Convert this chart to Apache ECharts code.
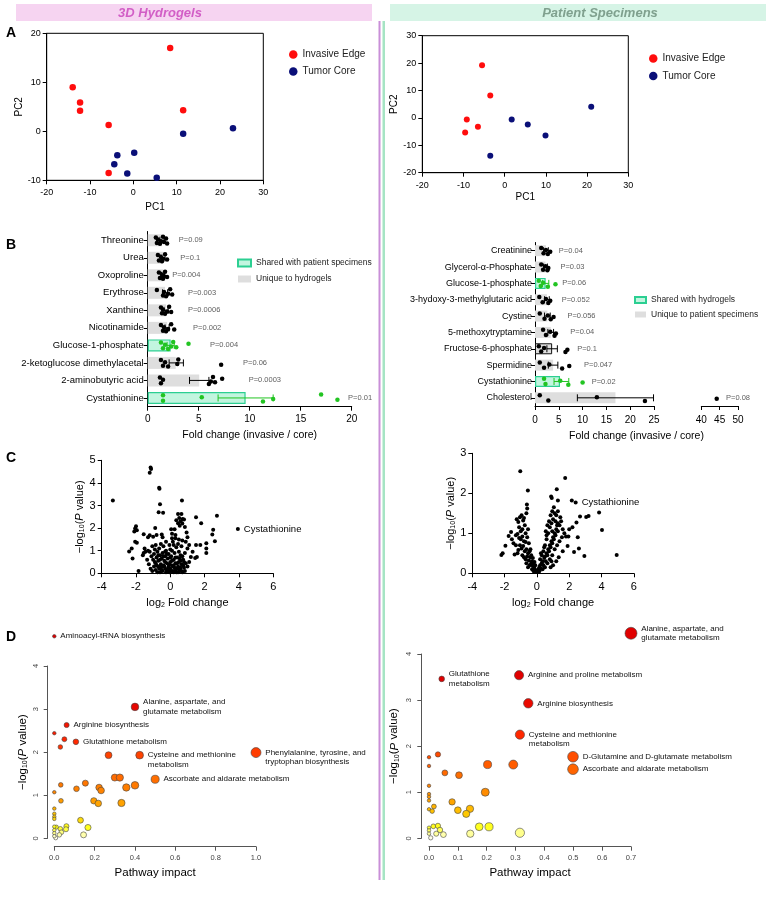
<!DOCTYPE html>
<html>
<head>
<meta charset="utf-8">
<script src="https://cdn.jsdelivr.net/npm/echarts@6/dist/echarts.min.js"></script>
<style>
  html, body { margin: 0; padding: 0; background: #fff; }
  #chart { width: 768px; height: 903px; }
</style>
</head>
<body>
<div id="chart"></div>
<script>
// ---------- A: PCA ----------
const pcaGelEdge = [[8.5, 17], [-14, 9], [-12.3, 5.9], [-12.3, 4.2], [-5.7, 1.3], [11.5, 4.3], [-5.7, -8.5]];
const pcaGelCore = [[11.5, -0.5], [23, 0.6], [0.2, -4.4], [-3.7, -4.9], [-4.4, -6.7], [-1.4, -8.6], [5.4, -9.5]];
const pcaPatEdge = [[-5.5, 19.2], [-3.5, 8.2], [-9.2, -0.6], [-6.5, -3.2], [-9.6, -5.3]];
const pcaPatCore = [[1.7, -0.6], [5.6, -2.4], [9.9, -6.4], [21, 4.1], [-3.5, -13.8]];

// ---------- B: fold change, hydrogels ----------
const gelMetabolites = ['Threonine', 'Urea', 'Oxoproline', 'Erythrose', 'Xanthine', 'Nicotinamide',
  'Glucose-1-phosphate', '2-ketoglucose dimethylacetal', '2-aminobutyric acid', 'Cystathionine'];
const gelShared = [false, false, false, false, false, false, true, false, false, true];
const gelMean = [1.4, 1.5, 1.5, 1.7, 1.8, 1.9, 2.25, 2.75, 5.05, 9.6];
const gelErrLow = [1.2, 1.3, 1.35, 1.45, 1.6, 1.7, 1.9, 2.1, 4.1, 6.9];
const gelErrHigh = [1.6, 1.7, 1.65, 1.95, 2.0, 2.1, 2.6, 3.5, 6.0, 12.3];
const gelPoints = [
  [0.8, 0.9, 1.0, 1.2, 1.3, 1.5, 1.6, 1.8, 1.9],
  [1.0, 1.1, 1.3, 1.4, 1.5, 1.7, 1.9],
  [1.1, 1.2, 1.4, 1.5, 1.6, 1.7, 1.9],
  [0.9, 1.5, 1.6, 1.8, 2.0, 2.2, 2.4],
  [1.3, 1.4, 1.5, 1.7, 1.9, 2.1, 2.3],
  [1.3, 1.5, 1.6, 1.8, 2.0, 2.3, 2.6],
  [1.3, 1.5, 1.7, 2.0, 2.3, 2.5, 2.8, 4.0],
  [1.3, 1.5, 1.7, 2.0, 2.9, 3.0, 7.2],
  [1.2, 1.3, 1.5, 6.0, 6.2, 6.4, 6.6, 7.3],
  [1.5, 1.5, 5.3, 11.3, 12.3, 17.0, 18.6]
];
const gelPLabels = ['P=0.09', 'P=0.1', 'P=0.004', 'P=0.003', 'P=0.0006', 'P=0.002', 'P=0.004', 'P=0.06', 'P=0.0003', 'P=0.01'];
const gelPLabelX = [3.0, 3.15, 2.35, 3.9, 3.9, 4.4, 6.05, 9.3, 9.85, 19.6];

// ---------- B: fold change, patient specimens ----------
const patMetabolites = ['Creatinine', 'Glycerol-α-Phosphate', 'Glucose-1-phosphate', '3-hydoxy-3-methylglutaric acid',
  'Cystine', '5-methoxytryptamine', 'Fructose-6-phosphate', 'Spermidine', 'Cystathionine', 'Cholesterol'];
const patShared = [false, false, true, false, false, false, false, false, true, false];
const patMean = [2.3, 2.2, 2.24, 2.5, 2.6, 3.3, 3.6, 3.8, 5.25, 16.9];
const patErrLow = [1.8, 1.8, 1.6, 2.0, 2.0, 2.7, 2.5, 2.8, 4.0, 8.9];
const patErrHigh = [2.8, 2.6, 2.9, 3.0, 3.2, 3.9, 4.7, 4.8, 7.1, 24.9];
const patPoints = [
  [1.3, 1.8, 2.3, 2.7, 3.2],
  [1.3, 1.7, 2.2, 2.6, 2.8],
  [0.8, 1.2, 1.7, 2.7, 4.3],
  [0.9, 1.6, 2.3, 2.8, 3.2],
  [1.0, 2.0, 2.7, 3.3, 3.9],
  [1.7, 2.3, 3.2, 4.1, 4.4],
  [0.8, 1.3, 1.9, 6.4, 6.8],
  [1.0, 1.9, 3.0, 5.7, 7.2],
  [1.9, 2.2, 5.3, 7.0, 10.0],
  [1.0, 2.8, 13.0, 23.1, 44.2]
];
const patPLabels = ['P=0.04', 'P=0.03', 'P=0.06', 'P=0.052', 'P=0.056', 'P=0.04', 'P=0.1', 'P=0.047', 'P=0.02', 'P=0.08'];
const patPLabelX = [4.9, 5.25, 5.6, 5.5, 6.7, 7.3, 8.75, 10.2, 11.8, 46.6];
const patBreakAt = 25;

// ---------- C: volcano plots [log2 FC, -log10 P] ----------
const volcanoGel = [
  [-3.35, 3.22], [-1.15, 4.68], [-1.12, 4.62], [-1.2, 4.45], [-0.65, 3.78], [-0.63, 3.74], [-0.6, 3.06], [-0.68, 2.7], [-0.42, 2.68], [0.68, 3.22],
  [0.45, 2.62], [0.65, 2.62], [0.52, 2.45], [0.72, 2.4], [0.35, 2.35], [0.6, 2.3], [0.8, 2.38], [0.45, 2.22], [0.7, 2.2], [0.55, 2.1],
  [1.5, 2.48], [1.8, 2.22], [2.72, 2.55],
  [-2.0, 2.08], [-2.05, 1.98], [-2.1, 1.85], [-1.95, 1.9], [-1.55, 1.73], [-0.88, 2.0], [-1.3, 1.6], [-1.2, 1.68], [-1.0, 1.62], [-0.8, 1.7], [-0.5, 1.72], [-0.45, 1.6],
  [0.05, 1.95], [0.25, 1.95], [0.1, 1.75], [0.3, 1.7], [0.85, 2.05], [0.95, 1.8], [1.0, 1.6], [0.9, 1.4], [1.1, 1.25], [0.7, 1.45], [0.5, 1.5], [0.3, 1.55], [0.15, 1.4],
  [2.5, 1.93], [2.45, 1.72], [2.6, 1.42], [2.1, 1.33], [2.1, 1.1], [2.1, 0.9], [1.75, 1.25], [1.5, 1.25], [1.55, 0.72], [1.45, 0.68], [1.2, 0.72], [1.3, 0.95], [1.0, 1.1],
  [-2.4, 0.97], [-2.2, 0.66], [-2.25, 1.1], [-1.85, 0.1], [-2.05, 1.4], [-1.95, 1.35], [-1.5, 1.1], [-1.55, 0.9], [-1.45, 0.95], [-1.6, 0.8],
  [-1.2, 0.95], [-1.1, 0.75], [-1.0, 0.6], [-0.95, 0.85], [-0.9, 1.05], [-0.85, 0.45], [-0.8, 0.7], [-0.75, 0.95], [-0.7, 0.3], [-0.7, 0.55],
  [-0.65, 1.1], [-0.6, 0.8], [-0.55, 0.4], [-0.5, 0.65], [-0.5, 0.15], [-0.45, 0.9], [-0.4, 0.35], [-0.4, 1.2], [-0.35, 0.55], [-0.3, 0.2],
  [-0.3, 0.75], [-0.25, 1.0], [-0.2, 0.45], [-0.2, 0.1], [-0.15, 0.65], [-0.1, 0.3], [-0.1, 0.85], [-0.05, 0.05], [0, 0.5], [0, 0.2],
  [0.05, 0.75], [0.1, 0.35], [0.1, 1.0], [0.15, 0.1], [0.2, 0.6], [0.25, 0.25], [0.25, 0.9], [0.3, 0.45], [0.35, 0.05], [0.35, 1.15],
  [0.4, 0.7], [0.45, 0.3], [0.5, 0.5], [0.5, 0.95], [0.55, 0.15], [0.6, 0.8], [0.65, 0.4], [0.7, 0.05], [0.75, 0.6], [0.8, 0.25],
  [0.85, 0.9], [0.9, 0.45], [-1.25, 0.4], [-1.15, 0.2], [-1.05, 0.1], [-0.95, 0.3], [-0.85, 0.15], [-0.75, 0.05], [-0.65, 0.2], [-0.6, 0.05],
  [-0.55, 0.25], [-0.45, 0.1], [-0.35, 0.3], [-0.25, 0.05], [-0.15, 0.2], [-0.05, 0.4], [0.05, 0.1], [0.15, 0.3], [0.2, 0.05], [0.3, 0.15],
  [0.4, 0.2], [0.45, 0.05], [0.6, 0.25], [0.65, 0.1], [0.75, 0.35], [0.85, 0.1], [-0.9, 0.5], [-0.8, 0.35], [-0.7, 0.8], [-0.6, 0.6],
  [-0.5, 0.3], [-0.4, 0.75], [-0.3, 0.5], [-0.2, 0.85], [-0.1, 0.15], [0, 0.7], [0.1, 0.55], [0.2, 0.35], [0.3, 0.7], [0.4, 0.45],
  [0.5, 0.25], [0.6, 0.55], [0.7, 0.75], [0.8, 0.5], [1.0, 0.3], [1.1, 0.5], [-1.3, 1.0], [-1.35, 0.6], [-1.05, 1.2], [-0.55, 1.3],
  [0.2, 1.25], [0.45, 1.3], [0.65, 1.2], [0.0, 1.05], [-0.25, 1.4], [0.1, 1.55], [-0.05, 1.25], [-0.85, 1.25], [-0.3, 0.95], [0.55, 0.65]
];
const volcanoGelHit = {name: 'Cystathionine', value: [3.94, 1.96]};

const volcanoPat = [
  [-1.03, 2.55], [-0.56, 2.07], [1.75, 2.38], [1.23, 2.1], [0.88, 1.92], [0.92, 1.88], [1.3, 1.82], [2.16, 1.82], [3.85, 1.52], [3.2, 1.43],
  [3.05, 1.41], [2.67, 1.42], [2.45, 1.27], [2.2, 1.15], [2.0, 1.1], [4.03, 1.08], [4.94, 0.46], [2.94, 0.43], [2.3, 0.53], [2.53, 0.9],
  [1.8, 0.92], [1.95, 0.92], [1.55, 0.9], [2.6, 0.62], [1.9, 0.68], [1.6, 0.55],
  [-2.2, 0.46], [-2.12, 0.5], [-1.95, 0.69], [-1.6, 1.03], [-1.75, 0.93], [-1.38, 0.47], [-1.55, 0.85], [-1.45, 0.75], [-1.3, 0.95],
  [-1.25, 1.35], [-1.15, 1.28], [-1.05, 1.4], [-0.95, 1.45], [-0.85, 1.32], [-0.8, 1.38], [-0.75, 1.2], [-0.62, 1.72], [-0.6, 1.62], [-0.65, 1.5],
  [-0.55, 1.1], [-1.1, 1.15], [-1.0, 1.05], [-0.9, 1.1], [-0.7, 1.0], [-1.2, 0.98], [-1.1, 0.88], [-1.0, 0.85], [-0.9, 0.92], [-0.8, 0.8],
  [-0.7, 0.78], [-0.6, 0.9], [-0.5, 0.75], [-1.05, 0.7], [-0.95, 0.62], [-0.85, 0.68], [-0.75, 0.55], [-0.65, 0.6], [-0.55, 0.5], [-0.45, 0.55],
  [-0.9, 0.45], [-0.8, 0.4], [-0.7, 0.35], [-0.6, 0.42], [-0.5, 0.32], [-0.4, 0.4], [-0.35, 0.25], [-0.3, 0.3], [-0.25, 0.18], [-0.2, 0.22],
  [-0.15, 0.12], [-0.1, 0.08], [-0.05, 0.03], [-0.45, 0.2], [-0.55, 0.15], [-0.3, 0.1], [-0.2, 0.05], [-0.4, 0.6], [-0.35, 0.45], [-0.65, 0.25],
  [-1.15, 0.58], [-1.3, 0.7], [-1.2, 0.5], [-0.25, 0.38], [-0.15, 0.28], [-0.1, 0.2],
  [0.05, 0.05], [0.1, 0.1], [0.15, 0.15], [0.2, 0.2], [0.25, 0.12], [0.3, 0.25], [0.35, 0.3], [0.4, 0.2], [0.45, 0.38], [0.5, 0.42],
  [0.55, 0.3], [0.6, 0.5], [0.65, 0.45], [0.7, 0.6], [0.75, 0.55], [0.8, 0.7], [0.85, 0.65], [0.9, 0.8], [0.95, 0.75], [1.0, 0.9],
  [1.05, 0.85], [1.1, 1.0], [1.15, 0.95], [1.2, 1.1], [1.25, 1.2], [1.3, 1.05], [0.6, 0.85], [0.7, 1.0], [0.8, 1.15], [0.9, 1.25],
  [1.0, 1.35], [1.1, 1.5], [1.2, 1.45], [1.3, 1.55], [0.75, 1.3], [0.85, 1.45], [0.95, 1.55], [1.05, 1.65], [0.65, 1.2], [0.55, 1.05],
  [0.5, 0.7], [0.4, 0.55], [0.3, 0.45], [0.2, 0.35], [0.15, 0.05], [0.35, 0.1], [0.5, 0.15], [0.65, 0.25], [0.8, 0.35], [0.95, 0.45],
  [1.1, 0.6], [1.25, 0.7], [1.4, 0.8], [1.4, 1.2], [1.5, 1.3], [1.35, 0.4], [1.2, 0.3], [0.9, 0.3], [1.6, 1.1], [1.7, 1.0],
  [1.45, 1.4], [1.0, 0.2], [0.85, 0.15], [0.25, 0.5], [0.45, 0.65], [0.6, 0.95], [1.15, 1.3], [1.3, 1.25], [0.95, 1.05]
];
const volcanoPatHit = {name: 'Cystathionine', value: [2.4, 1.77]};

// ---------- D: pathway impact [impact, -log10 P] ----------
const pathwayGel = [
  [0.0, 4.69], [0.40, 3.05], [0.061, 2.63], [0.107, 2.24], [0.423, 1.93], [1.0, 1.99], [0.5, 1.37],
  [0.0, 2.44], [0.05, 2.30], [0.03, 2.12], [0.269, 1.93], [0.30, 1.41], [0.325, 1.41], [0.40, 1.23], [0.357, 1.18],
  [0.222, 1.18], [0.232, 1.11], [0.154, 1.28], [0.11, 1.15], [0.032, 1.24], [0.0, 1.07], [0.033, 0.87], [0.196, 0.87],
  [0.218, 0.81], [0.333, 0.82], [0.0, 0.69], [0.0, 0.57], [0.0, 0.50], [0.0, 0.45], [0.13, 0.42], [0.167, 0.25],
  [0.145, 0.08], [0.06, 0.28], [0.058, 0.21], [0.01, 0.26], [0.03, 0.22], [0.0, 0.27], [0.0, 0.19], [0.0, 0.12],
  [0.035, 0.14], [0.025, 0.08], [0.007, 0.01], [0.0, 0.05]
];
const pathwayGelLabels = ['Aminoacyl-tRNA biosynthesis', 'Alanine, aspartate, and\nglutamate metabolism', 'Arginine biosynthesis',
  'Glutathione metabolism', 'Cysteine and methionine\nmetabolism', 'Phenylalanine, tyrosine, and\ntryptophan biosynthesis',
  'Ascorbate and aldarate metabolism'];

const pathwayPat = [
  [0.7, 4.45], [0.044, 3.46], [0.312, 3.54], [0.344, 2.93], [0.315, 2.25], [0.499, 1.77], [0.499, 1.50],
  [0.203, 1.60], [0.292, 1.60], [0.031, 1.82], [0.0, 1.76], [0.0, 1.57], [0.055, 1.42], [0.104, 1.37], [0.0, 1.14],
  [0.0, 0.96], [0.0, 0.90], [0.0, 0.82], [0.195, 1.0], [0.08, 0.79], [0.017, 0.69], [0.0, 0.63], [0.011, 0.59],
  [0.1, 0.61], [0.142, 0.64], [0.129, 0.53], [0.174, 0.25], [0.208, 0.25], [0.315, 0.12], [0.143, 0.10], [0.0, 0.23],
  [0.0, 0.17], [0.0, 0.10], [0.015, 0.26], [0.031, 0.27], [0.038, 0.18], [0.025, 0.10], [0.05, 0.08], [0.006, 0.01]
];
const pathwayPatLabels = ['Alanine, aspartate, and\nglutamate metabolism', 'Glutathione\nmetabolism', 'Arginine and proline metabolism',
  'Arginine biosynthesis', 'Cysteine and methionine\nmetabolism', 'D-Glutamine and D-glutamate metabolism',
  'Ascorbate and aldarate metabolism'];

// ---------- styles ----------
const FONT = '"Liberation Sans", Arial, sans-serif';
const RED = '#ff0d0d';
const NAVY = '#0a0f78';
const GREEN = '#22c422';
const MINT = '#c2f5df';
const MINT_EDGE = '#2ccf92';
const GREY = '#dedede';
const dotJitter = [-0.16, 0.16, -0.04, 0.2, 0.06, -0.2, 0.1, -0.1, 0.18];
const firstLineAligned = ['Cysteine and methionine\nmetabolism', 'Phenylalanine, tyrosine, and\ntryptophan biosynthesis'];

const chart = echarts.init(document.getElementById('chart'));

function axis(gridIndex, o) {
  const color = o.color || '#000';
  return Object.assign({
    gridIndex, type: 'value',
    axisLine: {show: true, onZero: false, lineStyle: {color, width: 1}},
    axisTick: {show: true, length: 4, lineStyle: {color, width: 1}},
    axisLabel: {fontSize: o.fs || 9, color, margin: o.margin || 7, fontFamily: FONT},
    splitLine: {show: false},
    nameLocation: 'middle',
    nameTextStyle: {fontSize: o.nameFs || 10, color: '#000', fontFamily: FONT}
  }, o.extra || {});
}
function hiddenRowAxis(gridIndex) {
  return {gridIndex, type: 'value', min: -0.5, max: 9.5, inverse: true, show: false};
}

const logPRich = fs => ({
  n: {fontSize: fs, color: '#000', fontFamily: FONT},
  s: {fontSize: Math.round(fs * 0.62), color: '#000', fontFamily: FONT, lineHeight: 4, verticalAlign: 'bottom'},
  i: {fontSize: fs, color: '#000', fontFamily: FONT, fontStyle: 'italic'}
});
const logPName = '{n|\u2212log}{s|10}{n|(}{i|P}{n| value)}';

function dotSeries(points, shared, wantShared, xi, yi, keep) {
  const data = [];
  points.forEach((vals, i) => {
    if (shared[i] !== wantShared) return;
    vals.forEach((v, j) => { if (keep(v)) data.push([v, i + dotJitter[j % dotJitter.length]]); });
  });
  return {type: 'scatter', xAxisIndex: xi, yAxisIndex: yi, data, symbolSize: 4.5, silent: true, z: 5,
    itemStyle: {color: wantShared ? GREEN : '#000', opacity: 1}};
}

function errorSeries(low, high, shared, xi, yi) {
  return {
    type: 'custom', xAxisIndex: xi, yAxisIndex: yi, silent: true, z: 4,
    encode: {x: [0, 1], y: 2},
    data: low.map((lo, i) => [lo, high[i], i]),
    renderItem: (params, api) => {
      const a = api.coord([api.value(0), api.value(2)]);
      const b = api.coord([api.value(1), api.value(2)]);
      const c = shared[params.dataIndex] ? GREEN : '#000';
      const st = {stroke: c, lineWidth: 1};
      return {type: 'group', children: [
        {type: 'line', shape: {x1: a[0], y1: a[1], x2: b[0], y2: b[1]}, style: st},
        {type: 'line', shape: {x1: a[0], y1: a[1] - 3.5, x2: a[0], y2: a[1] + 3.5}, style: st},
        {type: 'line', shape: {x1: b[0], y1: b[1] - 3.5, x2: b[0], y2: b[1] + 3.5}, style: st}
      ]};
    }
  };
}

function pLabelSeries(labels, xs, xi, yi, keep) {
  const data = [];
  labels.forEach((t, i) => { if (keep(xs[i])) data.push({name: t, value: [xs[i], i]}); });
  return {type: 'scatter', xAxisIndex: xi, yAxisIndex: yi, data, symbolSize: 1, silent: true,
    itemStyle: {color: 'rgba(0,0,0,0)'},
    label: {show: true, position: 'right', distance: 0, formatter: '{b}', fontSize: 7.5, color: '#333', fontFamily: FONT}};
}

function pathwaySeries(points, labels, xi, yi, maxImpact, maxSize) {
  return {
    type: 'scatter', xAxisIndex: xi, yAxisIndex: yi, clip: false, silent: true,
    data: points.map((p, i) => {
      const name = labels[i] || '';
      const item = {name, value: p};
      if (firstLineAligned.indexOf(name) >= 0) item.label = {offset: [0, 4.5]};
      return item;
    }),
    symbolSize: v => 3.5 + (maxSize - 3.5) * Math.sqrt(v[0] / maxImpact),
    itemStyle: {borderColor: '#444', borderWidth: 0.6, opacity: 1},
    label: {show: true, position: 'right', distance: 4, formatter: '{b}', fontSize: 8, lineHeight: 9.5,
      color: '#111', fontFamily: FONT}
  };
}

const plainDot = color => ({color, opacity: 1});

const series = [
  // A
  {type: 'scatter', name: 'Invasive Edge', xAxisIndex: 0, yAxisIndex: 0, data: pcaGelEdge, symbolSize: 6.5, itemStyle: plainDot(RED)},
  {type: 'scatter', name: 'Tumor Core', xAxisIndex: 0, yAxisIndex: 0, data: pcaGelCore, symbolSize: 6.5, itemStyle: plainDot(NAVY)},
  {type: 'scatter', name: 'Invasive Edge', xAxisIndex: 1, yAxisIndex: 1, data: pcaPatEdge, symbolSize: 6, itemStyle: plainDot(RED)},
  {type: 'scatter', name: 'Tumor Core', xAxisIndex: 1, yAxisIndex: 1, data: pcaPatCore, symbolSize: 6, itemStyle: plainDot(NAVY)},
  // B hydrogels
  {type: 'bar', name: 'Shared with patient specimens', xAxisIndex: 2, yAxisIndex: 2, barWidth: 12, barGap: '-100%',
    data: gelMean.map((v, i) => gelShared[i] ? v : '-'), itemStyle: {color: MINT, borderColor: MINT_EDGE, borderWidth: 1.2}, z: 2},
  {type: 'bar', name: 'Unique to hydrogels', xAxisIndex: 2, yAxisIndex: 2, barWidth: 12, barGap: '-100%',
    data: gelMean.map((v, i) => gelShared[i] ? '-' : v), itemStyle: {color: GREY}, z: 2},
  errorSeries(gelErrLow, gelErrHigh, gelShared, 2, 3),
  dotSeries(gelPoints, gelShared, false, 2, 3, () => true),
  dotSeries(gelPoints, gelShared, true, 2, 3, () => true),
  pLabelSeries(gelPLabels, gelPLabelX, 2, 3, () => true),
  // B patients
  {type: 'bar', name: 'Shared with hydrogels', xAxisIndex: 3, yAxisIndex: 4, barWidth: 11, barGap: '-100%',
    data: patMean.map((v, i) => patShared[i] ? v : '-'), itemStyle: {color: MINT, borderColor: MINT_EDGE, borderWidth: 1.2}, z: 2},
  {type: 'bar', name: 'Unique to patient specimens', xAxisIndex: 3, yAxisIndex: 4, barWidth: 11, barGap: '-100%',
    data: patMean.map((v, i) => {
      if (patShared[i]) return '-';
      return patMetabolites[i] === 'Fructose-6-phosphate'
        ? {value: v, itemStyle: {borderColor: '#111', borderWidth: 1}} : v;
    }), itemStyle: {color: GREY}, z: 2},
  errorSeries(patErrLow, patErrHigh, patShared, 3, 5),
  dotSeries(patPoints, patShared, false, 3, 5, v => v <= patBreakAt),
  dotSeries(patPoints, patShared, true, 3, 5, v => v <= patBreakAt),
  dotSeries(patPoints, patShared, false, 4, 6, v => v > patBreakAt),
  pLabelSeries(patPLabels, patPLabelX, 3, 5, x => x <= patBreakAt),
  pLabelSeries(patPLabels, patPLabelX, 4, 6, x => x > patBreakAt),
  // C
  {type: 'scatter', xAxisIndex: 5, yAxisIndex: 7, data: volcanoGel, symbolSize: 4, silent: true, itemStyle: plainDot('#000')},
  {type: 'scatter', xAxisIndex: 5, yAxisIndex: 7, data: [volcanoGelHit], symbolSize: 4, silent: true, itemStyle: plainDot('#000'),
    label: {show: true, position: 'right', distance: 4, formatter: '{b}', fontSize: 9.5, color: '#000', fontFamily: FONT}},
  {type: 'scatter', xAxisIndex: 6, yAxisIndex: 8, data: volcanoPat, symbolSize: 4, silent: true, itemStyle: plainDot('#000')},
  {type: 'scatter', xAxisIndex: 6, yAxisIndex: 8, data: [volcanoPatHit], symbolSize: 4, silent: true, itemStyle: plainDot('#000'),
    label: {show: true, position: 'right', distance: 4, formatter: '{b}', fontSize: 9.5, color: '#000', fontFamily: FONT}},
  // D
  pathwaySeries(pathwayGel, pathwayGelLabels, 7, 9, 1.0, 10),
  pathwaySeries(pathwayPat, pathwayPatLabels, 8, 10, 0.7, 12)
];
const dSeries = [series.length - 2, series.length - 1];

const option = {
  animation: false,
  backgroundColor: '#fff',
  textStyle: {fontFamily: FONT},
  graphic: [
    {type: 'rect', shape: {x: 16, y: 4, width: 356, height: 17}, style: {fill: '#f6d4f1'}},
    {type: 'text', style: {x: 160, y: 13, text: '3D Hydrogels', align: 'center', verticalAlign: 'middle',
      font: 'italic bold 13px "Liberation Sans", Arial, sans-serif', fill: '#d25ec6'}},
    {type: 'rect', shape: {x: 390, y: 4, width: 376, height: 17}, style: {fill: '#d6f4e6'}},
    {type: 'text', style: {x: 600, y: 13, text: 'Patient Specimens', align: 'center', verticalAlign: 'middle',
      font: 'italic bold 13px "Liberation Sans", Arial, sans-serif', fill: '#7fa08e'}},
    {type: 'rect', shape: {x: 378.5, y: 21, width: 2, height: 859}, style: {fill: '#c98fd8'}},
    {type: 'rect', shape: {x: 382.5, y: 21, width: 2.5, height: 859}, style: {fill: '#a6e4c4'}},
    {type: 'text', style: {x: 6, y: 33, text: 'A', verticalAlign: 'middle', font: 'bold 14px "Liberation Sans", Arial, sans-serif', fill: '#000'}},
    {type: 'text', style: {x: 6, y: 245, text: 'B', verticalAlign: 'middle', font: 'bold 14px "Liberation Sans", Arial, sans-serif', fill: '#000'}},
    {type: 'text', style: {x: 6, y: 458, text: 'C', verticalAlign: 'middle', font: 'bold 14px "Liberation Sans", Arial, sans-serif', fill: '#000'}},
    {type: 'text', style: {x: 6, y: 637, text: 'D', verticalAlign: 'middle', font: 'bold 14px "Liberation Sans", Arial, sans-serif', fill: '#000'}},
    {type: 'text', style: {x: 636.5, y: 436, text: 'Fold change (invasive / core)', align: 'center', verticalAlign: 'middle',
      font: '10.5px "Liberation Sans", Arial, sans-serif', fill: '#000'}}
  ],
  legend: [
    {left: 284, top: 44.5, orient: 'vertical', itemGap: 7, itemWidth: 8.5, itemHeight: 8.5, icon: 'circle',
      data: ['Invasive Edge', 'Tumor Core'], textStyle: {fontSize: 10, color: '#222', fontFamily: FONT}, selectedMode: false},
    {left: 644, top: 48.5, orient: 'vertical', itemGap: 7.5, itemWidth: 8.5, itemHeight: 8.5, icon: 'circle',
      data: ['Invasive Edge', 'Tumor Core'], textStyle: {fontSize: 10, color: '#222', fontFamily: FONT}, selectedMode: false},
    {left: 232, top: 253.5, orient: 'vertical', itemGap: 7, itemWidth: 13, itemHeight: 7, icon: 'rect',
      data: ['Shared with patient specimens', 'Unique to hydrogels'], textStyle: {fontSize: 8.5, color: '#222', fontFamily: FONT}, selectedMode: false},
    {left: 629, top: 290.5, orient: 'vertical', itemGap: 5.5, itemWidth: 11, itemHeight: 6, icon: 'rect',
      data: ['Shared with hydrogels', 'Unique to patient specimens'], textStyle: {fontSize: 8.5, color: '#222', fontFamily: FONT}, selectedMode: false}
  ],
  grid: [
    {left: 46.7, top: 33.3, width: 216.6, height: 147, show: true, borderColor: '#000', borderWidth: 1},
    {left: 422.3, top: 35.7, width: 206, height: 137, show: true, borderColor: '#000', borderWidth: 1},
    {left: 147.7, top: 231.5, width: 204, height: 175.2},
    {left: 535, top: 242.5, width: 119, height: 163.5},
    {left: 701.3, top: 242.5, width: 36.7, height: 163.5},
    {left: 101.7, top: 460.3, width: 171.5, height: 113},
    {left: 472.3, top: 453.3, width: 161.5, height: 120},
    {left: 54.3, top: 666, width: 201.7, height: 172.3},
    {left: 429, top: 654, width: 202, height: 184.3}
  ],
  xAxis: [
    axis(0, {margin: 8, extra: {min: -20, max: 30, interval: 10, name: 'PC1', nameGap: 22}}),
    axis(1, {margin: 8, extra: {min: -20, max: 30, interval: 10, name: 'PC1', nameGap: 20}}),
    axis(2, {fs: 10, margin: 8, extra: {min: 0, max: 20, interval: 5, name: 'Fold change (invasive / core)', nameGap: 23,
      nameTextStyle: {fontSize: 10.5, color: '#000', fontFamily: FONT}}}),
    axis(3, {fs: 10, margin: 9, extra: {min: 0, max: 25, interval: 5}}),
    axis(4, {fs: 10, margin: 9, extra: {min: 40, max: 50, interval: 5}}),
    axis(5, {fs: 11, margin: 8, extra: {min: -4, max: 6, interval: 2, name: '{n|log}{s|2}{n| Fold change}', nameGap: 24,
      nameTextStyle: {rich: logPRich(11)}}}),
    axis(6, {fs: 11, margin: 8, extra: {min: -4, max: 6, interval: 2, name: '{n|log}{s|2}{n| Fold change}', nameGap: 24,
      nameTextStyle: {rich: logPRich(11)}}}),
    axis(7, {fs: 7.5, color: '#555', margin: 7, extra: {min: 0, max: 1, interval: 0.2, offset: 8.4, name: 'Pathway impact', nameGap: 20,
      axisLabel: {fontSize: 7.5, color: '#444', margin: 7, formatter: v => v.toFixed(1)},
      nameTextStyle: {fontSize: 11.5, color: '#000', fontFamily: FONT}}}),
    axis(8, {fs: 7.5, color: '#555', margin: 7, extra: {min: 0, max: 0.7, interval: 0.1, offset: 8.4, name: 'Pathway impact', nameGap: 20,
      axisLabel: {fontSize: 7.5, color: '#444', margin: 7, formatter: v => v.toFixed(1)},
      nameTextStyle: {fontSize: 11.5, color: '#000', fontFamily: FONT}}})
  ],
  yAxis: [
    axis(0, {margin: 6, extra: {min: -10, max: 20, interval: 10, name: 'PC2', nameGap: 18}}),
    axis(1, {margin: 6, extra: {min: -20, max: 30, interval: 10, name: 'PC2', nameGap: 22}}),
    axis(2, {extra: {type: 'category', data: gelMetabolites, inverse: true,
      axisTick: {show: true, alignWithLabel: true, length: 4, lineStyle: {color: '#000'}},
      axisLabel: {fontSize: 9.5, color: '#000', margin: 4, interval: 0, fontFamily: FONT}}}),
    hiddenRowAxis(2),
    axis(3, {extra: {type: 'category', data: patMetabolites, inverse: true,
      axisTick: {show: true, alignWithLabel: true, length: 4, lineStyle: {color: '#000'}},
      axisLabel: {fontSize: 9, color: '#000', margin: 3, interval: 0, fontFamily: FONT}}}),
    hiddenRowAxis(3),
    hiddenRowAxis(4),
    axis(5, {fs: 11, margin: 6, extra: {min: 0, max: 5, interval: 1, name: logPName, nameGap: 16,
      nameTextStyle: {rich: logPRich(11)}}}),
    axis(6, {fs: 11, margin: 6, extra: {min: 0, max: 3, interval: 1, name: logPName, nameGap: 14,
      nameTextStyle: {rich: logPRich(11)}}}),
    axis(7, {color: '#555', extra: {min: 0, max: 4, interval: 1, offset: 6.6, name: logPName, nameGap: 19,
      axisLabel: {fontSize: 7.5, color: '#444', margin: 8, rotate: 90},
      nameTextStyle: {rich: logPRich(11.5)}}}),
    axis(8, {color: '#555', extra: {min: 0, max: 4, interval: 1, offset: 7.7, name: logPName, nameGap: 21,
      axisLabel: {fontSize: 7.5, color: '#444', margin: 8, rotate: 90},
      nameTextStyle: {rich: logPRich(11.5)}}})
  ],
  visualMap: [{
    type: 'continuous', show: false, seriesIndex: dSeries, dimension: 1, min: 0, max: 5,
    inRange: {color: ['#fffff0', '#ffff20', '#ffcc00', '#ffaa00', '#ff8c00', '#ff7800', '#ff6400', '#ff5000',
      '#ff3c00', '#ff2800', '#f81800', '#f01000', '#e80800', '#e00000', '#e00000', '#e00000', '#e00000',
      '#e00000', '#e00000', '#e00000', '#e00000'], opacity: 1}
  }],
  series
};

chart.setOption(option);
</script>
</body>
</html>
